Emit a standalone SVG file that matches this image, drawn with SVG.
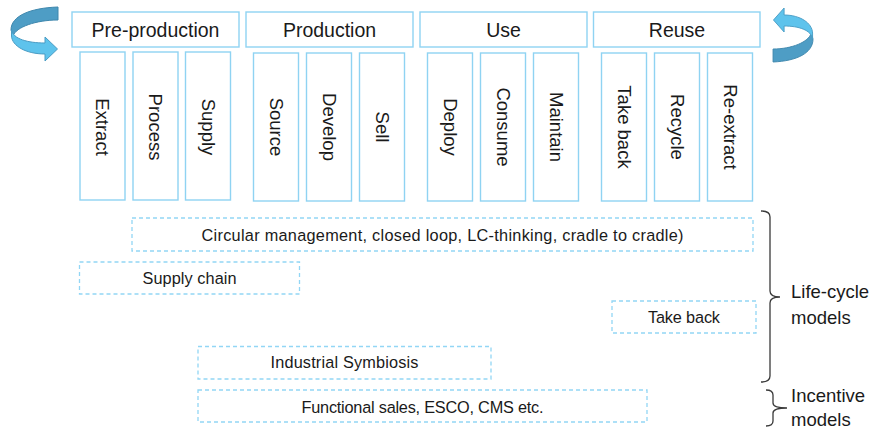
<svg xmlns="http://www.w3.org/2000/svg" width="873" height="431" viewBox="0 0 873 431">
  <style>
    text { font-family: "Liberation Sans", Arial, sans-serif; fill: #1a1a1a; }
    .hdr rect { fill: #fff; stroke: #8fd3f2; stroke-width: 1.4; }
    .hdr text { font-size: 19.5px; text-anchor: middle; }
    .col rect { fill: #fff; stroke: #8fd3f2; stroke-width: 1.4; }
    .col text { font-size: 18.5px; text-anchor: middle; }
    .model rect { fill: none; stroke: #92d6f5; stroke-width: 1.3; stroke-dasharray: 4 3; }
    .model text { font-size: 16.3px; text-anchor: middle; }
    .brace { fill: none; stroke: #3a3a3a; stroke-width: 1.3; }
    .lbl { font-size: 18.5px; }
    .back { fill: #4e9dc5; stroke: #3f87ad; stroke-width: 1; }
    .front { fill: #5ec3ec; stroke: #4a9cc4; stroke-width: 1; }
  </style>
  <defs>
    <g id="loop-arrow">
      <path class="back" d="M58,7 C30,8 11,16 11,30 L13,36 C16,27 36,20 58,20 Z"/>
      <path class="front" d="M11.5,30 C13,39 28,43 45,43 L45,37 L57.5,49 L45,61 L45,54 C26,54 12,46 11.5,36 Z"/>
    </g>
  </defs>

  <!-- cycle arrows at both ends -->
  <use id="arrow-left" href="#loop-arrow"/>
  <use id="arrow-right" href="#loop-arrow" transform="matrix(-0.85,0,0,-1,822.35,69)"/>

  <!-- phase headers -->
  <g id="pre-production" class="hdr"><rect x="72" y="12" width="167" height="35"/><text x="155.5" y="37">Pre-production</text></g>
  <g id="production" class="hdr"><rect x="246" y="12" width="167" height="35"/><text x="329.5" y="37">Production</text></g>
  <g id="use" class="hdr"><rect x="420" y="12" width="167" height="35"/><text x="503.5" y="37">Use</text></g>
  <g id="reuse" class="hdr"><rect x="593.5" y="12" width="166.5" height="35"/><text x="677" y="37">Reuse</text></g>

  <!-- activity columns -->
  <g id="extract" class="col"><rect x="80" y="52" width="45" height="148"/><text transform="translate(102.5,127) rotate(90)" dy="0.35em">Extract</text></g>
  <g id="process" class="col"><rect x="133" y="52" width="45" height="148"/><text transform="translate(155.5,127) rotate(90)" dy="0.35em">Process</text></g>
  <g id="supply" class="col"><rect x="185.5" y="52" width="45" height="148"/><text transform="translate(208,127) rotate(90)" dy="0.35em">Supply</text></g>
  <g id="source" class="col"><rect x="253.5" y="53" width="45" height="148"/><text transform="translate(276,127) rotate(90)" dy="0.35em">Source</text></g>
  <g id="develop" class="col"><rect x="306.5" y="53" width="45" height="148"/><text transform="translate(329,127) rotate(90)" dy="0.35em">Develop</text></g>
  <g id="sell" class="col"><rect x="359.5" y="53" width="45" height="148"/><text transform="translate(382,127) rotate(90)" dy="0.35em">Sell</text></g>
  <g id="deploy" class="col"><rect x="427.5" y="53" width="45" height="148"/><text transform="translate(450,127) rotate(90)" dy="0.35em">Deploy</text></g>
  <g id="consume" class="col"><rect x="480.5" y="53" width="45" height="148"/><text transform="translate(503,127) rotate(90)" dy="0.35em">Consume</text></g>
  <g id="maintain" class="col"><rect x="533.5" y="53" width="45" height="148"/><text transform="translate(556,127) rotate(90)" dy="0.35em">Maintain</text></g>
  <g id="take-back-col" class="col"><rect x="601.5" y="53" width="45" height="148"/><text transform="translate(624,127) rotate(90)" dy="0.35em">Take back</text></g>
  <g id="recycle" class="col"><rect x="654.5" y="53" width="45" height="148"/><text transform="translate(677,127) rotate(90)" dy="0.35em">Recycle</text></g>
  <g id="re-extract" class="col"><rect x="707.5" y="53" width="45" height="148"/><text transform="translate(730,127) rotate(90)" dy="0.35em">Re-extract</text></g>

  <!-- business model spans -->
  <g id="circular" class="model"><rect x="132" y="218" width="621" height="33"/><text x="442.5" y="241" textLength="482">Circular management, closed loop, LC-thinking, cradle to cradle)</text></g>
  <g id="supply-chain" class="model"><rect x="79.5" y="262" width="220" height="32"/><text x="189.5" y="284" textLength="94">Supply chain</text></g>
  <g id="take-back" class="model"><rect x="612" y="301" width="144" height="32"/><text x="684" y="323" textLength="72">Take back</text></g>
  <g id="industrial-symbiosis" class="model"><rect x="198" y="346.5" width="293" height="32.5"/><text x="344.5" y="368" textLength="148">Industrial Symbiosis</text></g>
  <g id="functional-sales" class="model"><rect x="198" y="390" width="449" height="32"/><text x="422.5" y="413" textLength="242">Functional sales, ESCO, CMS etc.</text></g>

  <!-- grouping braces -->
  <g id="connectors">
    <path class="brace" d="M761,211 Q770,211 770,217 L770,291 Q770,297 780,297 Q770,297 770,303 L770,376 Q770,382 761,382"/>
    <path class="brace" d="M766,390 Q773,390 773,395 L773,403 Q773,408 787,408 Q773,408 773,413 L773,421 Q773,426 766,426"/>
  </g>

  <g id="life-cycle-label"><text class="lbl" x="791" y="298">Life-cycle</text><text class="lbl" x="791" y="324">models</text></g>
  <g id="incentive-label"><text class="lbl" x="791" y="402">Incentive</text><text class="lbl" x="791" y="426">models</text></g>
</svg>
